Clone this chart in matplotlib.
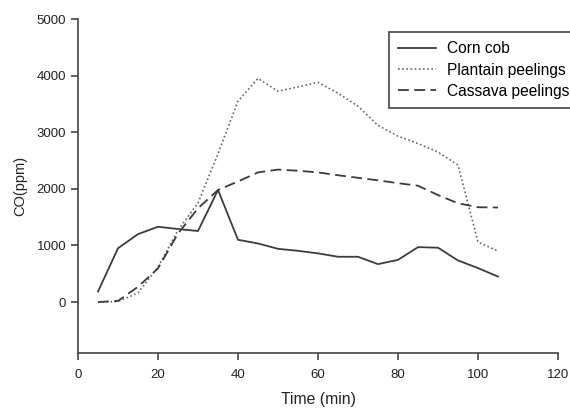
import matplotlib
matplotlib.use("Agg")
import matplotlib.pyplot as plt

plt.rcParams['font.family'] = ['Liberation Sans', 'DejaVu Sans']

time = [5, 10, 15, 20, 25, 30, 35, 40, 45, 50, 55, 60, 65, 70, 75, 80, 85, 90, 95, 100, 105]
corn_cob = [185, 950, 1200, 1330, 1290, 1255, 1980, 1100, 1035, 940, 905, 860, 800, 800, 670, 745, 970, 960, 735, 600, 450]
plantain = [0, 10, 160, 620, 1270, 1750, 2620, 3550, 3950, 3725, 3800, 3880, 3690, 3460, 3120, 2930, 2800, 2650, 2420, 1060, 900]
cassava = [0, 20, 270, 595, 1210, 1655, 1980, 2130, 2290, 2340, 2320, 2290, 2240, 2195, 2150, 2100, 2055, 1890, 1745, 1675, 1670]

labels = ["Corn cob", "Plantain peelings", "Cassava peelings"]

fig = plt.figure(figsize=(5.7, 4.08), dpi=100)
ax = fig.add_axes([78/570, 1-353/408, (558-78)/570, (353-19)/408])

lc = '#3c3c3c'
ax.plot(time, corn_cob, color=lc, lw=1.3, ls='-', label=labels[0])
ax.plot(time, plantain, color='#666666', lw=1.2, ls=(0, (1, 1.5)), label=labels[1])
ax.plot(time, cassava, color=lc, lw=1.3, ls=(0, (6, 3)), label=labels[2])

ax.set_xlim(0, 120)
ax.set_ylim(-900, 5000)
ax.set_xticks([0, 20, 40, 60, 80, 100, 120])
ax.set_yticks([0, 1000, 2000, 3000, 4000, 5000])
for s in ['top', 'right']:
    ax.spines[s].set_visible(False)
for s in ['left', 'bottom']:
    ax.spines[s].set_color('#444444')
    ax.spines[s].set_linewidth(1.2)
ax.tick_params(direction='out', length=5, width=1.2, color='#444444', labelsize=9.5, labelcolor='#222222')
ax.tick_params(axis='x', pad=6.5)

ax.set_xlabel("Time (min)", fontsize=11.3, color='#222222', labelpad=8)
ax.set_ylabel("CO(ppm)", fontsize=10.5, color='#222222', labelpad=7)

leg = ax.legend(loc='upper left', bbox_to_anchor=(389/570, 1-32/408), bbox_transform=fig.transFigure,
                fancybox=False, framealpha=1, edgecolor='#444444', fontsize=11.2,
                handlelength=2.4, handletextpad=0.75, borderpad=0.6, labelspacing=0.4, borderaxespad=0)
leg.get_frame().set_linewidth(1.2)

fig.savefig("out.png", dpi=100)
